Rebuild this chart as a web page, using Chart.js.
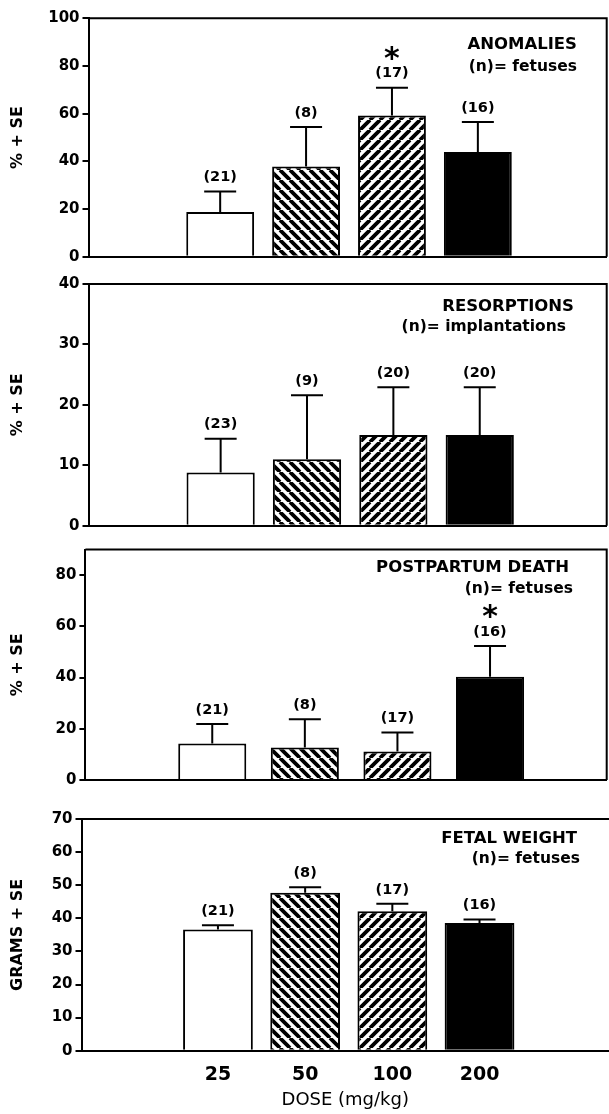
<!DOCTYPE html>
<html>
<head>
<meta charset="utf-8">
<script src="https://cdn.jsdelivr.net/npm/chart.js@4.4.1/dist/chart.umd.min.js"></script>
<style>
    body { margin: 0; background: #fff; width: 609px; height: 1114px; position: relative; overflow: hidden; }
    canvas { position: absolute; left: 0; }
</style>
</head>
<body>
<canvas id="anomChart" width="609" height="280" style="top:0px"></canvas>
<canvas id="resoChart" width="609" height="283" style="top:262px"></canvas>
<canvas id="deathChart" width="609" height="280" style="top:528px"></canvas>
<canvas id="weightChart" width="609" height="316" style="top:798px"></canvas>
<script>
// dose groups (x tick labels)
var doses = ['25', '50', '100', '200'];

// anomalies, % of fetuses
var anomMean = [18.7, 37.8, 59.2, 43.9];
var anomSe = [8.6, 16.6, 11.7, 12.6];
var anomN = ['(21)', '(8)', '(17)', '(16)'];
var anomStar = [false, false, true, false];

// resorptions, % of implantations
var resoMean = [8.8, 11.0, 15.0, 15.0];
var resoSe = [5.6, 10.6, 7.9, 7.9];
var resoN = ['(23)', '(9)', '(20)', '(20)'];
var resoStar = [false, false, false, false];

// postpartum death, % of fetuses
var deathMean = [14.3, 12.7, 11.1, 40.3];
var deathSe = [7.6, 11.0, 7.4, 12.0];
var deathN = ['(21)', '(8)', '(17)', '(16)'];
var deathStar = [false, false, false, true];

// fetal weight, grams
var weightMean = [36.6, 47.7, 42.1, 38.6];
var weightSe = [1.3, 1.7, 2.3, 1.0];
var weightN = ['(21)', '(8)', '(17)', '(16)'];
var weightStar = [false, false, false, false];

Chart.defaults.font.family = '"DejaVu Sans", sans-serif';
Chart.defaults.color = '#000';

function hatch(dir) {
    var s = 10;
    var c = document.createElement('canvas');
    c.width = s;
    c.height = s;
    var g = c.getContext('2d');
    g.fillStyle = '#fff';
    g.fillRect(0, 0, s, s);
    g.strokeStyle = '#000';
    g.lineWidth = 3.8;
    g.beginPath();
    for (var k = -1; k <= 1; k++) {
        if (dir === 'down') {
            g.moveTo(k * s, 0);
            g.lineTo(k * s + s, s);
        } else {
            g.moveTo(k * s, s);
            g.lineTo(k * s + s, 0);
        }
    }
    g.stroke();
    return g.createPattern(c, 'repeat');
}

var fills = ['#fff', hatch('down'), hatch('up'), '#000'];

var panels = [
    {
        id: 'anomChart', top: 0, height: 280,
        mean: anomMean, se: anomSe, n: anomN, star: anomStar,
        yMax: 100, yStep: 20, yTickMax: 100, yTitle: '% + SE',
        xMin: -0.533, xMax: 5.5, barPct: 0.79,
        area: {top: 18.3, bottom: 256.7, left: 88.5, right: 606.7}, frameRight: true, showX: false,
        titles: [
            {text: 'ANOMALIES', x: 577, y: 49, font: 'bold 16.5px "DejaVu Sans"'},
            {text: '(n)= fetuses', x: 577, y: 71, font: 'bold 15.5px "DejaVu Sans"'}
        ]
    },
    {
        id: 'resoChart', top: 262, height: 283,
        mean: resoMean, se: resoSe, n: resoN, star: resoStar,
        yMax: 40, yStep: 10, yTickMax: 40, yTitle: '% + SE',
        xMin: -0.53, xMax: 5.47, barPct: 0.79,
        area: {top: 284, bottom: 525.7, left: 88.5, right: 606.7}, frameRight: true, showX: false,
        titles: [
            {text: 'RESORPTIONS', x: 574, y: 311, font: 'bold 16.5px "DejaVu Sans"'},
            {text: '(n)= implantations', x: 566, y: 331, font: 'bold 15.5px "DejaVu Sans"'}
        ]
    },
    {
        id: 'deathChart', top: 528, height: 280,
        mean: deathMean, se: deathSe, n: deathN, star: deathStar,
        yMax: 90, yStep: 20, yTickMax: 80, yTitle: '% + SE',
        xMin: -0.37, xMax: 5.26, barPct: 0.735,
        area: {top: 549.5, bottom: 780, left: 85.4, right: 606.7}, frameRight: true, showX: false,
        titles: [
            {text: 'POSTPARTUM DEATH', x: 569, y: 572, font: 'bold 16.5px "DejaVu Sans"'},
            {text: '(n)= fetuses', x: 573, y: 593, font: 'bold 15.5px "DejaVu Sans"'}
        ]
    },
    {
        id: 'weightChart', top: 798, height: 316,
        mean: weightMean, se: weightSe, n: weightN, star: weightStar,
        yMax: 70, yStep: 10, yTickMax: 70, yTitle: 'GRAMS + SE',
        xMin: -0.565, xMax: 5.485, barPct: 0.80,
        area: {top: 819, bottom: 1050.7, left: 81.5, right: 609}, frameRight: false, showX: true,
        titles: [
            {text: 'FETAL WEIGHT', x: 577, y: 843, font: 'bold 16.5px "DejaVu Sans"'},
            {text: '(n)= fetuses', x: 580, y: 863, font: 'bold 15.5px "DejaVu Sans"'}
        ]
    }
];

function decor(p) {
    return {
        id: 'decor',
        afterDraw: function (chart) {
            var ctx = chart.ctx;
            var a = chart.chartArea;
            var xs = chart.scales.x;
            var ys = chart.scales.y;
            ctx.save();
            ctx.strokeStyle = '#000';
            ctx.fillStyle = '#000';
            ctx.lineWidth = 2;

            // box top (and right side)
            ctx.beginPath();
            ctx.moveTo(a.left, a.top);
            ctx.lineTo(a.right, a.top);
            if (p.frameRight) ctx.lineTo(a.right, a.bottom);
            ctx.stroke();

            // SE bars, n labels, stars
            p.mean.forEach(function (m, i) {
                var x = xs.getPixelForValue(i + 1);
                var y0 = ys.getPixelForValue(m);
                var y1 = ys.getPixelForValue(m + p.se[i]);
                ctx.beginPath();
                ctx.moveTo(x, y0);
                ctx.lineTo(x, y1);
                ctx.moveTo(x - 16, y1);
                ctx.lineTo(x + 16, y1);
                ctx.stroke();

                ctx.font = 'bold 14.5px "DejaVu Sans"';
                ctx.textAlign = 'center';
                ctx.textBaseline = 'middle';
                ctx.fillText(p.n[i], x, y1 - 14);
                if (p.star[i]) {
                    ctx.font = 'bold 30px "DejaVu Sans"';
                    ctx.textBaseline = 'alphabetic';
                    ctx.fillText('*', x, y1 - 38 + 18);
                }
            });

            // panel titles
            ctx.textAlign = 'right';
            ctx.textBaseline = 'alphabetic';
            p.titles.forEach(function (t) {
                ctx.font = t.font;
                ctx.fillText(t.text, t.x, t.y - p.top);
            });
            ctx.restore();
        }
    };
}

panels.forEach(function (p) {
    var ctx = document.getElementById(p.id);
    var data = {
        datasets: [
            {
                data: p.mean.map(function (v, i) {
                    return {x: i + 1, y: v};
                }),
                backgroundColor: fills,
                borderColor: '#000',
                borderWidth: 2,
                borderSkipped: 'bottom',
                categoryPercentage: 1,
                barPercentage: p.barPct
            }
        ]
    };

    new Chart(ctx, {
        type: 'bar',
        data: data,
        options: {
            responsive: false,
            animation: false,
            events: [],
            layout: {
                padding: {top: p.area.top - p.top, right: 609 - p.area.right, left: 0, bottom: 0}
            },
            plugins: {
                legend: {display: false},
                tooltip: {enabled: false}
            },
            scales: {
                x: {
                    type: 'linear',
                    min: p.xMin,
                    max: p.xMax,
                    offset: false,
                    grid: {display: false, offset: false},
                    border: {display: true, color: '#000', width: 2},
                    afterBuildTicks: function (s) {
                        s.ticks = doses.map(function (d, i) {
                            return {value: i + 1};
                        });
                    },
                    afterFit: function (s) {
                        s.height = p.top + p.height - p.area.bottom;
                    },
                    ticks: {
                        display: p.showX,
                        padding: 5,
                        font: {size: 19, weight: 'bold'},
                        callback: function (v) {
                            return doses[v - 1];
                        }
                    },
                    title: {
                        display: p.showX,
                        text: 'DOSE (mg/kg)',
                        font: {size: 18},
                        padding: {top: 4, bottom: 3}
                    }
                },
                y: {
                    min: 0,
                    max: p.yMax,
                    afterBuildTicks: function (s) {
                        s.ticks = s.ticks.filter(function (t) {
                            return t.value <= p.yTickMax;
                        });
                    },
                    afterFit: function (s) {
                        s.width = p.area.left;
                    },
                    grid: {drawOnChartArea: false, color: '#000', lineWidth: 2, tickLength: 6},
                    border: {display: true, color: '#000', width: 2},
                    ticks: {
                        stepSize: p.yStep,
                        padding: 3,
                        font: {size: 15, weight: 'bold'}
                    },
                    title: {
                        display: true,
                        text: p.yTitle,
                        font: {size: 16, weight: 'bold'},
                        padding: {top: 8, bottom: 0}
                    }
                }
            }
        },
        plugins: [decor(p)]
    });
});
</script>
</body>
</html>
